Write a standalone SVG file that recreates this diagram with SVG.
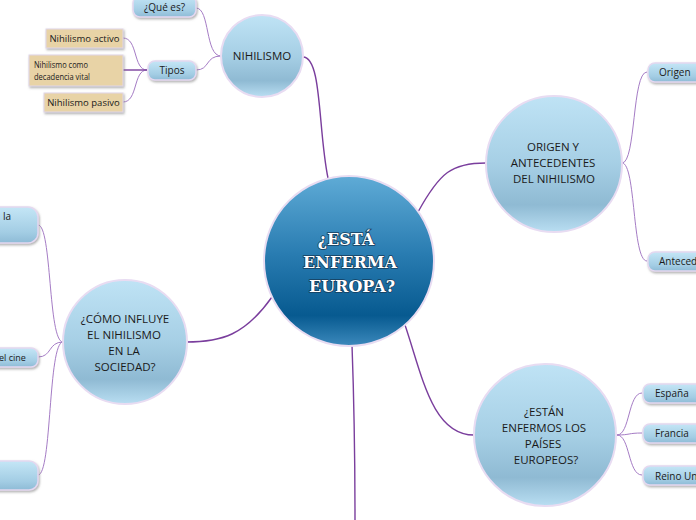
<svg xmlns="http://www.w3.org/2000/svg" width="696" height="520" viewBox="0 0 696 520">
<defs>
<linearGradient id="gBall" x1="0" y1="0" x2="0" y2="1">
<stop offset="0" stop-color="#bfe3f5"/>
<stop offset="0.5" stop-color="#a6cfe5"/>
<stop offset="0.8" stop-color="#8fbad3"/>
<stop offset="1" stop-color="#b9def2"/>
</linearGradient>
<linearGradient id="gMain" x1="0" y1="0" x2="0" y2="1">
<stop offset="0" stop-color="#5fabd6"/>
<stop offset="0.45" stop-color="#2a7db2"/>
<stop offset="0.82" stop-color="#075a90"/>
<stop offset="1" stop-color="#3c89bc"/>
</linearGradient>
<linearGradient id="gPill" x1="0" y1="0" x2="0" y2="1">
<stop offset="0" stop-color="#c4e6f6"/>
<stop offset="0.7" stop-color="#a3cde4"/>
<stop offset="1" stop-color="#8ebbd6"/>
</linearGradient>
<filter id="sh" x="-20%" y="-20%" width="140%" height="150%">
<feDropShadow dx="1" dy="1.5" stdDeviation="0.8" flood-color="#7a7a7a" flood-opacity="0.6"/>
</filter>
</defs>
<style>
.ball{fill:url(#gBall);stroke:#e8dcf2;stroke-width:2}
.pill{fill:url(#gPill);stroke:#e4d8f0;stroke-width:1.5}
.beige{fill:#e8d3a6;stroke:#e0d6e8;stroke-width:1}
.t{font-family:"Open Sans","Liberation Sans",sans-serif;fill:#1a1a1a}
.bt{font-size:11.5px;text-anchor:middle}
.st{font-size:10px}
.main{fill:none;stroke:#7a3e9d;stroke-width:1.4}
.sub{fill:none;stroke:#a57cc5;stroke-width:1}
.ctext{font-family:"DejaVu Serif","Liberation Serif",serif;font-weight:bold;font-size:16px;fill:#ffffff;stroke:#173f5e;stroke-width:1.6;paint-order:stroke;text-anchor:middle}
</style>

<g id="connectors">
<path class="main" d="M303,57 C322,57 318,130 328,178"/>
<path class="main" d="M418,212 C440,172 452,163 486,163"/>
<path class="main" d="M405,325 C422,375 432,435 474,435"/>
<path class="main" d="M272,297 C245,335 222,342 186,342"/>
<path class="main" d="M352,345 C354,400 355,460 355,520"/>
<path class="sub" d="M221,56 C205,56 210,8 196,8"/>
<path class="sub" d="M221,56 C205,56 210,70 196,70"/>
<path class="sub" d="M147,70 C133,70 138,38 123,38"/>
<path class="sub" d="M147,70 C133,70 138,102 123,102"/>
<path class="main" d="M147,70 L123,70"/>
<path class="sub" d="M622,163 C636,163 632,72 647,72"/>
<path class="sub" d="M622,163 C636,163 632,261 647,261"/>
<path class="sub" d="M617,435 C630,435 628,393 642,393"/>
<path class="sub" d="M617,435 C630,435 628,433 642,433"/>
<path class="sub" d="M617,435 C630,435 628,475 642,475"/>
<path class="sub" d="M63,342 C48,342 52,225 38,225"/>
<path class="sub" d="M63,342 C48,342 52,357 38,357"/>
<path class="sub" d="M63,342 C48,342 52,475 38,475"/>
</g>

<g id="center">
<circle cx="349" cy="261" r="85" fill="url(#gMain)" stroke="#e8dcf2" stroke-width="2"/>
<text class="ctext" x="346" y="245">¿ESTÁ</text>
<text class="ctext" x="350" y="268">ENFERMA</text>
<text class="ctext" x="352" y="292">EUROPA?</text>
</g>

<g id="nihilismo">
<circle class="ball" cx="262" cy="56" r="41"/>
<text class="t bt" x="262" y="60">NIHILISMO</text>
</g>

<g id="que-es">
<rect class="pill" x="133" y="-4" width="63" height="21" rx="7" filter="url(#sh)"/>
<text class="t st" x="164.5" y="11" text-anchor="middle">¿Qué es?</text>
</g>

<g id="tipos">
<rect class="pill" x="148" y="61" width="48" height="19" rx="7" filter="url(#sh)"/>
<text class="t st" x="172" y="74" text-anchor="middle">Tipos</text>
</g>

<g id="activo">
<rect class="beige" x="46" y="29" width="77" height="19" filter="url(#sh)"/>
<text class="t" font-size="9.5" x="84.5" y="42" text-anchor="middle">Nihilismo activo</text>
</g>

<g id="decadencia">
<rect class="beige" x="29" y="55" width="94" height="31" filter="url(#sh)"/>
<text class="t" font-size="8.5" x="34" y="68" textLength="54" lengthAdjust="spacingAndGlyphs">Nihilismo como</text>
<text class="t" font-size="8.5" x="34" y="80" textLength="56" lengthAdjust="spacingAndGlyphs">decadencia vital</text>
</g>

<g id="pasivo">
<rect class="beige" x="44" y="93" width="79" height="19" filter="url(#sh)"/>
<text class="t" font-size="9.5" x="83.5" y="106" text-anchor="middle">Nihilismo pasivo</text>
</g>

<g id="origen-antecedentes">
<circle class="ball" cx="554" cy="164" r="68"/>
<text class="t bt" x="553" y="151">ORIGEN Y</text>
<text class="t bt" x="553" y="167">ANTECEDENTES</text>
<text class="t bt" x="554" y="183">DEL NIHILISMO</text>
</g>

<g id="origen">
<rect class="pill" x="648" y="63" width="60" height="19" rx="7" filter="url(#sh)"/>
<text class="t st" x="659" y="76">Origen</text>
</g>

<g id="antecedentes">
<rect class="pill" x="648" y="252" width="60" height="19" rx="7" filter="url(#sh)"/>
<text class="t st" x="659" y="265">Antecedentes</text>
</g>

<g id="paises">
<circle class="ball" cx="545" cy="435" r="71"/>
<text class="t bt" x="544" y="416">¿ESTÁN</text>
<text class="t bt" x="544" y="432">ENFERMOS LOS</text>
<text class="t bt" x="543" y="448">PAÍSES</text>
<text class="t bt" x="546" y="464">EUROPEOS?</text>
</g>

<g id="espana">
<rect class="pill" x="643" y="384" width="65" height="19" rx="7" filter="url(#sh)"/>
<text class="t st" x="655" y="397">España</text>
</g>

<g id="francia">
<rect class="pill" x="643" y="424" width="65" height="19" rx="7" filter="url(#sh)"/>
<text class="t st" x="655" y="437">Francia</text>
</g>

<g id="reino-unido">
<rect class="pill" x="643" y="466" width="65" height="19" rx="7" filter="url(#sh)"/>
<text class="t st" x="655" y="480">Reino Unido</text>
</g>

<g id="sociedad">
<circle class="ball" cx="125" cy="342" r="62"/>
<text class="t bt" x="125" y="323">¿CÓMO INFLUYE</text>
<text class="t bt" x="124" y="339">EL NIHILISMO</text>
<text class="t bt" x="124" y="355">EN LA</text>
<text class="t bt" x="125" y="371">SOCIEDAD?</text>
</g>

<g id="left-1">
<rect class="pill" x="-30" y="207" width="68" height="36" rx="10" filter="url(#sh)"/>
<text class="t st" x="3" y="220">la</text>
</g>

<g id="left-2">
<rect class="pill" x="-30" y="348" width="68" height="19" rx="7" filter="url(#sh)"/>
<text class="t" font-size="9" x="-1" y="361">el cine</text>
</g>

<g id="left-3">
<rect class="pill" x="-30" y="461" width="68" height="29" rx="9" filter="url(#sh)"/>
</g>
</svg>
